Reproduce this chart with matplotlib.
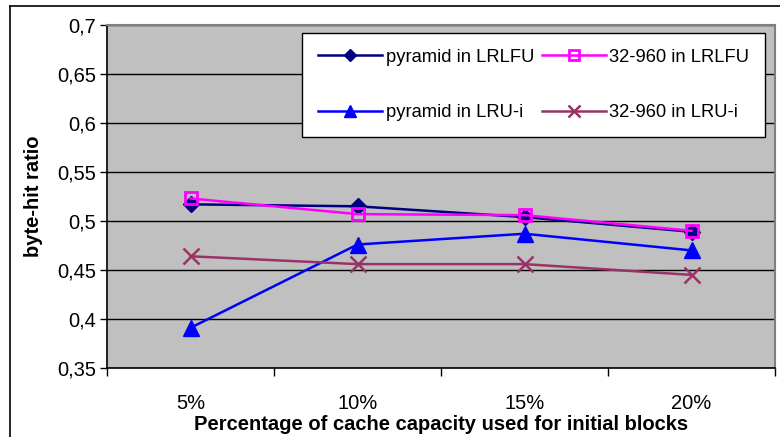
import matplotlib
matplotlib.use("Agg")
import matplotlib.pyplot as plt
from matplotlib.lines import Line2D

plt.rcParams['font.family'] = ['Liberation Sans', 'DejaVu Sans']

categories = ["5%", "10%", "15%", "20%"]
pyramid_lrlfu = [0.517, 0.515, 0.504, 0.489]
s32_960_lrlfu = [0.523, 0.507, 0.506, 0.490]
pyramid_lrui = [0.391, 0.476, 0.487, 0.470]
s32_960_lrui = [0.464, 0.456, 0.456, 0.445]
yticks = [0.35, 0.4, 0.45, 0.5, 0.55, 0.6, 0.65, 0.7]
ytick_labels = ["0,35", "0,4", "0,45", "0,5", "0,55", "0,6", "0,65", "0,7"]

W, H = 780, 437
fig = plt.figure(figsize=(W / 100, H / 100), dpi=100)
fig.patch.set_facecolor("white")

# outer chart frame (left and top edges visible)
fig.add_artist(Line2D([10 / W, 10 / W], [0, 1 - 6 / H], transform=fig.transFigure, color="black", lw=1.2))
fig.add_artist(Line2D([10 / W, 1], [1 - 6 / H, 1 - 6 / H], transform=fig.transFigure, color="black", lw=1.2))

ax = fig.add_axes([107 / W, (H - 368) / H, 668 / W, 343 / H])
ax.set_facecolor("#C0C0C0")

x = list(range(len(categories)))
h1, = ax.plot(x, pyramid_lrlfu, color="#000080", lw=1.8, marker="D", ms=8, label="pyramid in LRLFU", zorder=3)
h2, = ax.plot(x, s32_960_lrlfu, color="#FF00FF", lw=1.8, marker="s", ms=9, mfc="none", mew=2,
              label="32-960 in LRLFU", zorder=4)
h3, = ax.plot(x, pyramid_lrui, color="#0000FF", lw=1.8, marker="^", ms=11, label="pyramid in LRU-i", zorder=3)
h4, = ax.plot(x, s32_960_lrui, color="#993366", lw=1.8, marker="x", ms=11, mew=1.8,
              label="32-960 in LRU-i", zorder=3)

ax.set_xlim(-0.5, len(categories) - 0.5)
ax.set_ylim(0.35, 0.7)
ax.set_yticks(yticks)
ax.set_yticklabels(ytick_labels, fontsize=14.5)
ax.yaxis.grid(True, color="black", lw=1.0)
ax.set_axisbelow(True)

ax.set_xticks(x)
ax.set_xticklabels(categories, fontsize=14.5)
ax.set_xticks([i + 0.5 for i in range(-1, len(categories))], minor=True)
ax.tick_params(axis="x", which="major", length=0, pad=19)
ax.tick_params(axis="x", which="minor", length=6, direction="out", width=1)
ax.tick_params(axis="y", length=5, direction="out", width=1, pad=3)

for side in ("left", "bottom"):
    ax.spines[side].set_color("black")
    ax.spines[side].set_linewidth(1.2)
for side in ("top", "right"):
    ax.spines[side].set_color("#808080")
    ax.spines[side].set_linewidth(1.5)

ax.set_ylabel("byte-hit ratio", fontsize=14.5, fontweight="bold", labelpad=10)
ax.set_xlabel("Percentage of cache capacity used for initial blocks", fontsize=14.5,
              fontweight="bold", labelpad=1)

# legend filled column-wise: rows read LRLFU pair, then LRU-i pair
leg = ax.legend([h1, h3, h2, h4], [h.get_label() for h in (h1, h3, h2, h4)],
                ncol=2, loc="upper right", bbox_to_anchor=(765 / W, 1 - 33 / H),
                bbox_transform=fig.transFigure, fontsize=13.2, frameon=True, fancybox=False,
                edgecolor="black", facecolor="white", framealpha=1, borderaxespad=0,
                handlelength=3.5, handletextpad=0.2, columnspacing=0.4,
                labelspacing=2.1, borderpad=0.85, markerscale=0.8)
leg.get_frame().set_linewidth(1.0)

fig.savefig("out.png", dpi=100)
